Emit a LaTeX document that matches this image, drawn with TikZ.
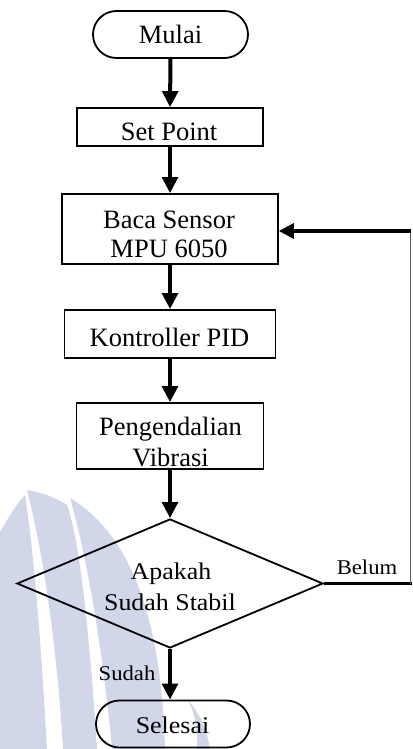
\documentclass[tikz,border=0pt]{standalone}
\usepackage{fontspec}
\setmainfont{Liberation Serif}
\newfontfamily\labelfont[FakeStretch=1.08]{Liberation Serif}
\usetikzlibrary{arrows.meta,shapes.misc,shapes.geometric}

\definecolor{wmark}{RGB}{209,214,233}
\definecolor{thinline}{RGB}{90,90,90}

\tikzset{
  boxtext/.style={anchor=base, inner sep=0pt, font=\fontsize{26.5}{30}\selectfont},
  decisiontext/.style={anchor=base, inner sep=0pt, font=\labelfont\fontsize{24}{28}\selectfont},
  branchtext/.style={anchor=base, inner sep=0pt, font=\labelfont\fontsize{21}{25}\selectfont},
  process/.style={draw, line width=1.7pt, rectangle, inner sep=0pt},
  terminal/.style={draw, line width=1.8pt, rounded rectangle, inner sep=0pt,
    minimum width=155pt, minimum height=47pt},
  decision/.style={draw, line width=1.8pt, diamond, inner sep=0pt,
    minimum width=306pt, minimum height=129pt},
  flow/.style={line width=4pt, -{Triangle[width=15.5pt,length=16pt]}},
  backline/.style={line width=3.3pt},
  backthin/.style={line width=1pt, draw=thinline},
}

\begin{document}
\begin{tikzpicture}[x=1pt, y=-1pt]
\useasboundingbox (0,0) rectangle (412,749);

% faint logo in the lower left corner: three curved bands and a small spike
\begin{scope}[fill=wmark]
  \fill (0,532) .. controls (10,515) and (18,502) .. (25,495)
        .. controls (35,560) and (42,660) .. (47,749) -- (0,749) -- cycle;
  \fill (27,490) .. controls (45,560) and (58,660) .. (63,749) -- (97,749)
        .. controls (90,640) and (80,540) .. (67,505)
        .. controls (55,497) and (40,492) .. (27,490) -- cycle;
  \fill (70,498) .. controls (88,560) and (104,660) .. (112,749) -- (165,749)
        .. controls (162,640) and (140,540) .. (70,498) -- cycle;
  \fill (188,700) .. controls (196,715) and (198,735) .. (197,749) -- (210,749)
        .. controls (207,730) and (199,712) .. (188,700) -- cycle;
\end{scope}

% flow chart boxes
\node[terminal] (start) at (170.5,34.5) {};
\node[process, minimum width=186pt, minimum height=38pt] (setpt) at (170,127) {};
\node[process, minimum width=216pt, minimum height=70pt] (baca) at (170,229) {};
\node[process, minimum width=211pt, minimum height=48pt] (pid) at (170,334) {};
\node[process, minimum width=187pt, minimum height=66pt] (vib) at (170,436) {};
\node[decision] (dec) at (170,583.5) {};
\node[terminal, minimum width=154pt] (stop) at (173,724) {};

% texts
\node[boxtext] (t-start) at (170.5,44) {Mulai};
\node[boxtext] (t-setpt) at (169,140.7) {Set Point};
\node[boxtext] (t-baca1) at (169,228.3) {Baca Sensor};
\node[boxtext] (t-baca2) at (169,257.5) {MPU 6050};
\node[boxtext] (t-pid) at (169.5,346.7) {Kontroller PID};
\node[boxtext] (t-vib1) at (170.5,435.7) {Pengendalian};
\node[boxtext] (t-vib2) at (170.5,466) {Vibrasi};
\node[decisiontext] (t-dec1) at (171,579) {Apakah};
\node[decisiontext] (t-dec2) at (170,610) {Sudah Stabil};
\node[decisiontext] (t-stop) at (172.5,733) {Selesai};
\node[branchtext] (t-no) at (367,574) {Belum};
\node[branchtext] (t-yes) at (127,680) {Sudah};

% main flow
\draw[flow] (start.south) -- (setpt.north);
\draw[flow] (setpt.south) -- (baca.north);
\draw[flow] (baca.south) -- (pid.north);
\draw[flow] (pid.south) -- (vib.north);
\draw[flow] (vib.south) -- (dec.north);
\draw[flow] (dec.south) -- (dec.south |- stop.north);

% feedback loop
\coordinate (loopR) at (410.5,583.5);
\coordinate (loopT) at (410.5,231);
\draw[backline] (dec.east) -- ([xshift=1pt]loopR);
\draw[backthin] (loopR) -- (loopT);
\draw[backline, -{Triangle[width=15pt,length=15pt]}] ([xshift=0.5pt]loopT) -- (loopT -| baca.east);
\end{tikzpicture}
\end{document}
